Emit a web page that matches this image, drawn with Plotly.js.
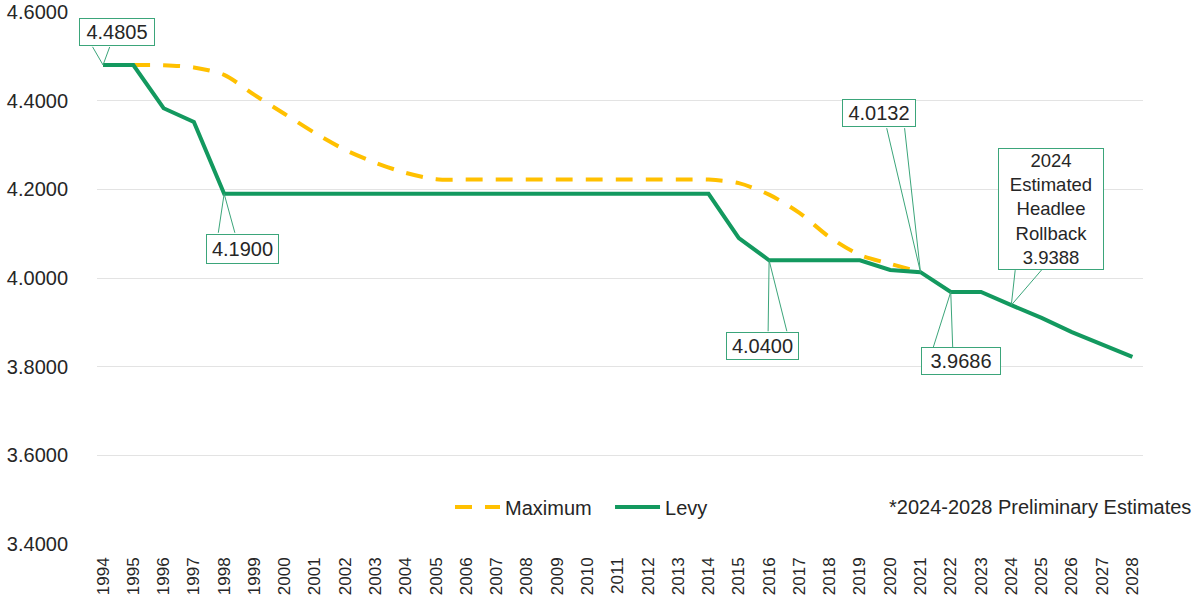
<!DOCTYPE html>
<html>
<head>
<meta charset="utf-8">
<script src="https://cdn.plot.ly/plotly-3.0.1.min.js"></script>
<style>html,body{margin:0;padding:0;background:#fff;}#chart{width:1197px;height:603px;}</style>
</head>
<body>
<div id="chart"></div>
<script>
const years = ["1994","1995","1996","1997","1998","1999","2000","2001","2002","2003","2004","2005","2006","2007","2008","2009","2010","2011","2012","2013","2014","2015","2016","2017","2018","2019","2020","2021","2022","2023","2024","2025","2026","2027","2028"];
const maxYears = years.slice(0, 28);
const maximum = [4.4805,4.4805,4.480,4.475,4.458,4.413,4.370,4.327,4.289,4.260,4.237,4.223,4.222,4.222,4.222,4.222,4.222,4.222,4.222,4.222,4.222,4.214,4.188,4.147,4.092,4.052,4.032,4.0132];
const levy = [4.4805,4.4805,4.383,4.352,4.19,4.19,4.19,4.19,4.19,4.19,4.19,4.19,4.19,4.19,4.19,4.19,4.19,4.19,4.19,4.19,4.19,4.09,4.04,4.04,4.04,4.04,4.018,4.0132,3.9686,3.9686,3.9388,3.910,3.878,3.849,3.822];
const yTicks = [3.4,3.6,3.8,4.0,4.2,4.4,4.6];
const seriesNames = ["Maximum","Levy"];
const noteText = "*2024-2028 Preliminary Estimates";
const labelYears = ["1994","1998","2016","2021","2022","2024"];
const labelPrefix = {"2024":"2024<br>Estimated<br>Headlee<br>Rollback<br>"};

const GREEN = '#13995F';
const YELLOW = '#FFC000';
const BOXLINE = '#3BA57A';
const FONT = '"Liberation Sans", Arial, sans-serif';
const TXT = '#262626';

// label box geometry (pixel offsets from the data point)
const geom = {
  "1994": {dx: 14, dy: 33, w: 70, h: 22, fs: 20, wedge: [[-11,-19],[7,-19]]},
  "1998": {dx: 18, dy: -55, w: 67, h: 24, fs: 20, wedge: [[-6,40],[11,40]]},
  "2016": {dx: -7, dy: -86, w: 67, h: 22, fs: 20, wedge: [[-1,72],[18,72]]},
  "2021": {dx: -41, dy: 159, w: 68, h: 22, fs: 20, wedge: [[-34,-145],[-16,-145]]},
  "2022": {dx: 10, dy: -69, w: 74, h: 22, fs: 20, wedge: [[-18,57],[2,57]]},
  "2024": {dx: 40, dy: 96, w: 100, h: 116, fs: 18.5, wedge: [[4,-36],[31,-36]]}
};

const annotations = [];
labelYears.forEach(function(yr){
  const i = years.indexOf(yr);
  const v = levy[i];
  const g = geom[yr];
  (g.wedge).forEach(function(p){
    annotations.push({
      xref:'x', yref:'y', x:i, y:v, text:' ', showarrow:true,
      ax:p[0], ay:p[1], arrowhead:0, arrowwidth:1, arrowcolor:BOXLINE,
      standoff:0, startstandoff:0, font:{size:1, color:'rgba(0,0,0,0)'},
      bgcolor:'rgba(0,0,0,0)', bordercolor:'rgba(0,0,0,0)', borderpad:0
    });
  });
  annotations.push({
    xref:'x', yref:'y', x:i, y:v, xshift:g.dx, yshift:g.dy,
    text:(labelPrefix[yr]||'') + v.toFixed(4), showarrow:false,
    width:g.w, height:g.h, align:'center', valign:'middle',
    bgcolor:'#ffffff', bordercolor:BOXLINE, borderwidth:1, borderpad:2,
    font:{family:FONT, size:g.fs, color:TXT}
  });
});
annotations.push({
  xref:'paper', yref:'paper', x:1.0478, y:0.0695, xanchor:'right', yanchor:'middle',
  text:noteText, showarrow:false, font:{family:FONT, size:20, color:TXT}
});

const traces = [
  {x:maxYears, y:maximum, name:seriesNames[0], type:'scatter', mode:'lines',
   line:{color:YELLOW, width:4, dash:'17px,13px', shape:'spline', smoothing:0.8}, hoverinfo:'skip'},
  {x:years, y:levy, name:seriesNames[1], type:'scatter', mode:'lines',
   line:{color:GREEN, width:4}, hoverinfo:'skip'}
];

const layout = {
  width:1197, height:603,
  margin:{l:97, r:54, t:12, b:59, pad:0},
  paper_bgcolor:'#ffffff', plot_bgcolor:'#ffffff',
  font:{family:FONT, size:20, color:TXT},
  showlegend:true,
  legend:{orientation:'h', x:0.3375, y:0.0695, xanchor:'left', yanchor:'middle',
          font:{family:FONT, size:20, color:TXT}, bgcolor:'rgba(0,0,0,0)',
          entrywidth:100, entrywidthmode:'pixels', itemwidth:45, traceorder:'normal'},
  xaxis:{type:'category', range:[-0.2, 34.35], showgrid:false, zeroline:false,
         showline:false, ticks:'', tickangle:-90, ticklabelstandoff:9,
         tickfont:{family:FONT, size:17, color:TXT}, fixedrange:true},
  yaxis:{range:[3.4, 4.6], tickvals:yTicks, tickformat:'.4f', showgrid:true,
         gridcolor:'#E3E3E3', gridwidth:1, zeroline:false, showline:false, ticks:'',
         ticklabelstandoff:28, tickfont:{family:FONT, size:20, color:TXT}, fixedrange:true},
  annotations:annotations
};

Plotly.newPlot('chart', traces, layout, {staticPlot:true, displayModeBar:false});
</script>
</body>
</html>
